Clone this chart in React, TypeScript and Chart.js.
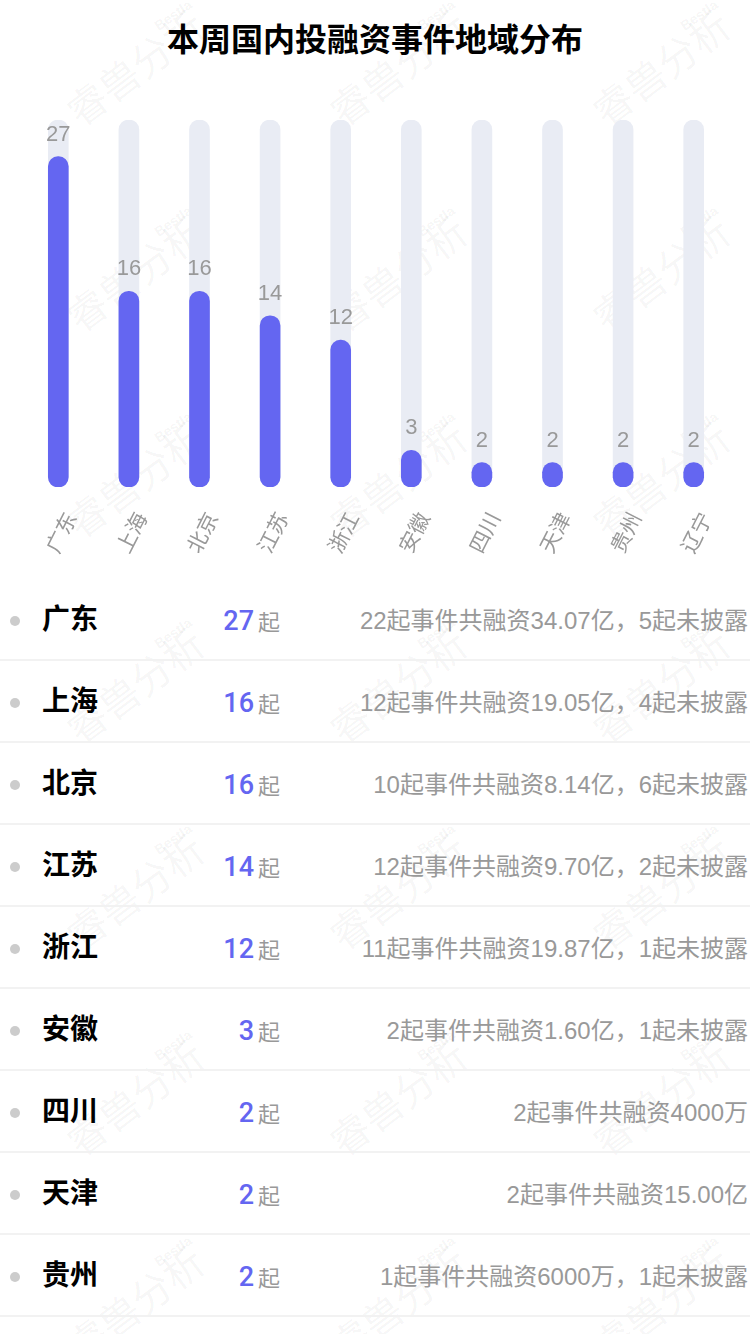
import React, { useEffect, useRef } from "react";
import { Chart, registerables } from "chart.js";

Chart.register(...registerables);

const regions = ["广东", "上海", "北京", "江苏", "浙江", "安徽", "四川", "天津", "贵州", "辽宁"];
const counts = [27, 16, 16, 14, 12, 3, 2, 2, 2, 2];
const trackMax = 30;

const listRegions = ["广东", "上海", "北京", "江苏", "浙江", "安徽", "四川", "天津", "贵州"];
const listCounts = [27, 16, 16, 14, 12, 3, 2, 2, 2];
const listNotes = [
  "22起事件共融资34.07亿，5起未披露",
  "12起事件共融资19.05亿，4起未披露",
  "10起事件共融资8.14亿，6起未披露",
  "12起事件共融资9.70亿，2起未披露",
  "11起事件共融资19.87亿，1起未披露",
  "2起事件共融资1.60亿，1起未披露",
  "2起事件共融资4000万",
  "2起事件共融资15.00亿",
  "1起事件共融资6000万，1起未披露",
];

const watermarkRows = [0, 1, 2, 3, 4, 5, 6];
const watermarkCols = [0, 1, 2];

const FONT = '"Liberation Sans", "Noto Sans CJK SC", sans-serif';
const PURPLE = "#6466F1";
const TRACK = "#E9ECF4";

const valueLabels = {
  id: "valueLabels",
  afterDatasetsDraw(chart: any) {
    const ctx = chart.ctx;
    const meta = chart.getDatasetMeta(0);
    ctx.save();
    ctx.font = `22px ${FONT}`;
    ctx.fillStyle = "#999999";
    ctx.textAlign = "center";
    ctx.textBaseline = "bottom";
    meta.data.forEach((bar: any, i: number) => {
      ctx.fillText(String(counts[i]), bar.x, bar.y - 11);
    });
    ctx.restore();
  },
};

function Watermark() {
  return (
    <div style={{ position: "absolute", inset: 0, pointerEvents: "none", zIndex: 0 }}>
      {watermarkRows.map((r) =>
        watermarkCols.map((c) => {
          const bx = 172 + 263 * c;
          const by = 15 + 206 * r;
          return (
            <React.Fragment key={`${r}-${c}`}>
              <div
                style={{
                  position: "absolute",
                  left: bx - 20,
                  top: by - 8,
                  fontSize: 14,
                  fontWeight: 700,
                  color: "rgba(0,0,0,0.05)",
                  transform: "rotate(-35deg)",
                  whiteSpace: "nowrap",
                  fontFamily: FONT,
                }}
              >
                Bestla
              </div>
              <div
                style={{
                  position: "absolute",
                  left: bx - 36 - 90,
                  top: by + 54 - 22,
                  width: 180,
                  fontSize: 40,
                  lineHeight: "44px",
                  textAlign: "center",
                  color: "rgba(0,0,0,0.045)",
                  transform: "rotate(-37deg)",
                  whiteSpace: "nowrap",
                  fontFamily: FONT,
                }}
              >
                睿兽分析
              </div>
            </React.Fragment>
          );
        })
      )}
    </div>
  );
}

export default function App() {
  const canvasRef = useRef<HTMLCanvasElement | null>(null);

  useEffect(() => {
    document.body.style.margin = "0";
    const canvas = canvasRef.current;
    if (!canvas) return;
    const chart = new Chart(canvas, {
      type: "bar",
      data: {
        labels: regions,
        datasets: [
          {
            data: counts,
            backgroundColor: PURPLE,
            borderRadius: 10,
            borderSkipped: false,
            barThickness: 20,
            grouped: false,
            order: 0,
          },
          {
            data: regions.map(() => trackMax),
            backgroundColor: TRACK,
            borderRadius: 10,
            borderSkipped: false,
            barThickness: 20,
            grouped: false,
            order: 1,
          },
        ],
      },
      options: {
        responsive: false,
        animation: false,
        layout: { padding: { top: 50, left: 23, right: 21, bottom: 0 } },
        plugins: {
          legend: { display: false },
          tooltip: { enabled: false },
        },
        scales: {
          y: { display: false, min: 0, max: trackMax },
          x: {
            grid: { display: false },
            border: { display: false },
            afterFit: (axis: any) => {
              axis.height = 83;
            },
            ticks: {
              color: "#999999",
              font: { size: 21, family: FONT },
              maxRotation: 63,
              minRotation: 63,
              padding: 14,
              labelOffset: 14,
            },
          },
        },
      },
      plugins: [valueLabels],
    });
    return () => chart.destroy();
  }, []);

  return (
    <div
      style={{
        position: "relative",
        width: 750,
        height: 1334,
        overflow: "hidden",
        background: "#fff",
        fontFamily: FONT,
      }}
    >
      <Watermark />
      <div
        style={{
          position: "absolute",
          top: 22,
          left: 0,
          width: 750,
          textAlign: "center",
          fontSize: 32,
          lineHeight: "36px",
          fontWeight: 700,
          color: "#000",
          zIndex: 1,
        }}
      >
        本周国内投融资事件地域分布
      </div>
      <canvas
        ref={canvasRef}
        width={750}
        height={500}
        style={{ position: "absolute", top: 70, left: 0, width: 750, height: 500, zIndex: 1 }}
      />
      <div style={{ position: "absolute", top: 579, left: 0, width: 750, zIndex: 1 }}>
        {listRegions.map((name, i) => (
          <div
            key={name}
            style={{
              position: "relative",
              height: 80,
              borderBottom: "2px solid #F2F2F2",
            }}
          >
            <div
              style={{
                position: "absolute",
                left: 10,
                top: 37,
                width: 10,
                height: 10,
                borderRadius: 5,
                background: "#CCCCCC",
              }}
            />
            <div
              style={{
                position: "absolute",
                left: 42,
                top: 1,
                height: 80,
                lineHeight: "80px",
                fontSize: 28,
                fontWeight: 700,
                color: "#000",
              }}
            >
              {name}
            </div>
            <div
              style={{
                position: "absolute",
                right: 470,
                top: 2,
                height: 80,
                lineHeight: "80px",
                whiteSpace: "nowrap",
                textAlign: "right",
              }}
            >
              <span style={{ fontSize: 27, fontWeight: 500, color: PURPLE, fontFamily: "Roboto, sans-serif" }}>
                {listCounts[i]}
              </span>
              <span style={{ fontSize: 22, color: "#999", marginLeft: 4 }}>起</span>
            </div>
            <div
              style={{
                position: "absolute",
                right: 2,
                top: 2,
                height: 80,
                lineHeight: "80px",
                whiteSpace: "nowrap",
                fontSize: 24,
                color: "#999",
              }}
            >
              {listNotes[i]}
            </div>
          </div>
        ))}
      </div>
    </div>
  );
}
